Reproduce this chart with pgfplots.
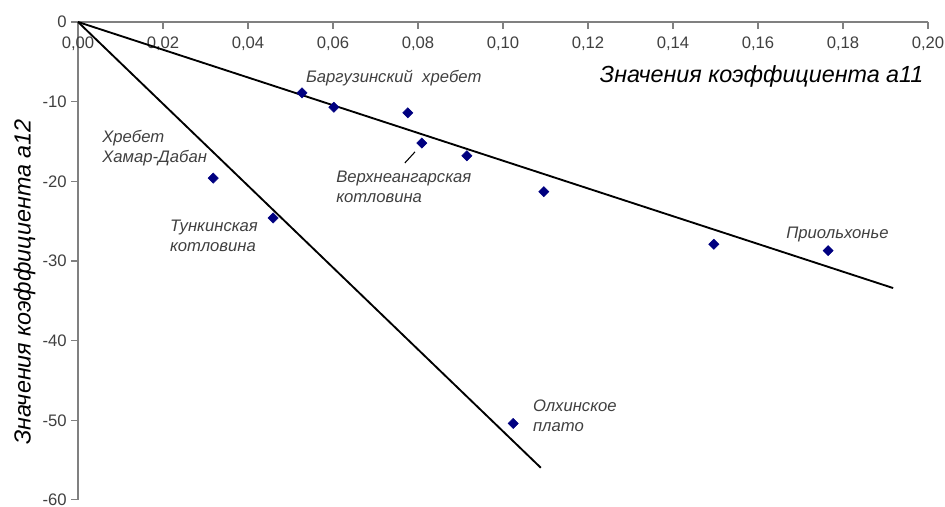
\documentclass[border=0pt]{standalone}
\usepackage{fontspec}
\setmainfont{Liberation Sans}
\usepackage{pgfplots}
\pgfplotsset{compat=1.18}
\definecolor{navy}{RGB}{0,0,128}
\definecolor{axgray}{RGB}{128,128,128}
\definecolor{txtgray}{RGB}{64,64,64}
\begin{document}
\begin{tikzpicture}
\begin{axis}[
  scale only axis, width=637.5pt, height=358.5pt,
  xmin=0, xmax=0.2, ymin=-60, ymax=0,
  axis x line=top, axis y line=left,
  axis line style={draw=axgray, line width=0.8pt, -},
  xtick={0,0.02,0.04,0.06,0.08,0.1,0.12,0.14,0.16,0.18,0.2},
  ytick={-60,-50,-40,-30,-20,-10,0},
  xtick align=inside, ytick align=outside,
  major tick length=5pt,
  tick style={draw=axgray, line width=0.8pt},
  /pgf/number format/assume math mode=true,
  xticklabel style={anchor=north, yshift=-7.5pt, font=\fontsize{12.5pt}{14pt}\selectfont, text=txtgray,
     /pgf/number format/.cd, fixed, fixed zerofill, precision=2, use comma},
  yticklabel style={font=\fontsize{12.5pt}{14pt}\selectfont, text=txtgray},
  clip=false,
]
\addplot[black, line width=1.4pt] coordinates {(0,0) (0.1918,-33.4)};
\addplot[black, line width=1.4pt] coordinates {(0,0) (0.1089,-55.96)};
\addplot[only marks, mark=square*, mark size=2.7pt, mark options={rotate=45, fill=navy, draw=navy}] coordinates {
 (0.0527,-8.9) (0.0602,-10.7) (0.0776,-11.4) (0.0809,-15.2) (0.0915,-16.8)
 (0.1096,-21.3) (0.1496,-27.9) (0.1765,-28.7) (0.0318,-19.6) (0.0459,-24.6) (0.1024,-50.4)
};
\draw[black, line width=0.8pt] (axis cs:0.0769,-17.7) -- (axis cs:0.0793,-16.3);
\begin{scope}[every node/.style={font=\fontsize{12.5pt}{15pt}\selectfont\itshape, text=txtgray, align=left, inner sep=0pt}]
\node[anchor=west] at (axis cs:0.0536,-7.0) {Баргузинский\ \ хребет};
\node[anchor=west] at (axis cs:0.00565,-15.8) {Хребет\\Хамар-Дабан};
\node[anchor=west] at (axis cs:0.0607,-20.7) {Верхнеангарская\\котловина};
\node[anchor=west] at (axis cs:0.0216,-26.9) {Тункинская\\котловина};
\node[anchor=west] at (axis cs:0.1666,-26.7) {Приольхонье};
\node[anchor=west] at (axis cs:0.107,-49.4) {Олхинское\\плато};
\end{scope}
\node[anchor=east, inner sep=0pt, font=\fontsize{17.5pt}{20pt}\selectfont\itshape] at (axis cs:0.199,-6.9) {Значения коэффициента а11};
\node[rotate=90, inner sep=0pt, font=\fontsize{17.5pt}{20pt}\selectfont\itshape] at ([xshift=-40pt]rel axis cs:0,0.456) {Значения коэффициента а12};
\coordinate (bbsw) at (rel axis cs:-0.0918,-0.0146);
\coordinate (bbne) at (rel axis cs:1.02,1.046);
\end{axis}
\pgfresetboundingbox
\path[use as bounding box] (bbsw) rectangle (bbne);
\end{tikzpicture}
\end{document}
